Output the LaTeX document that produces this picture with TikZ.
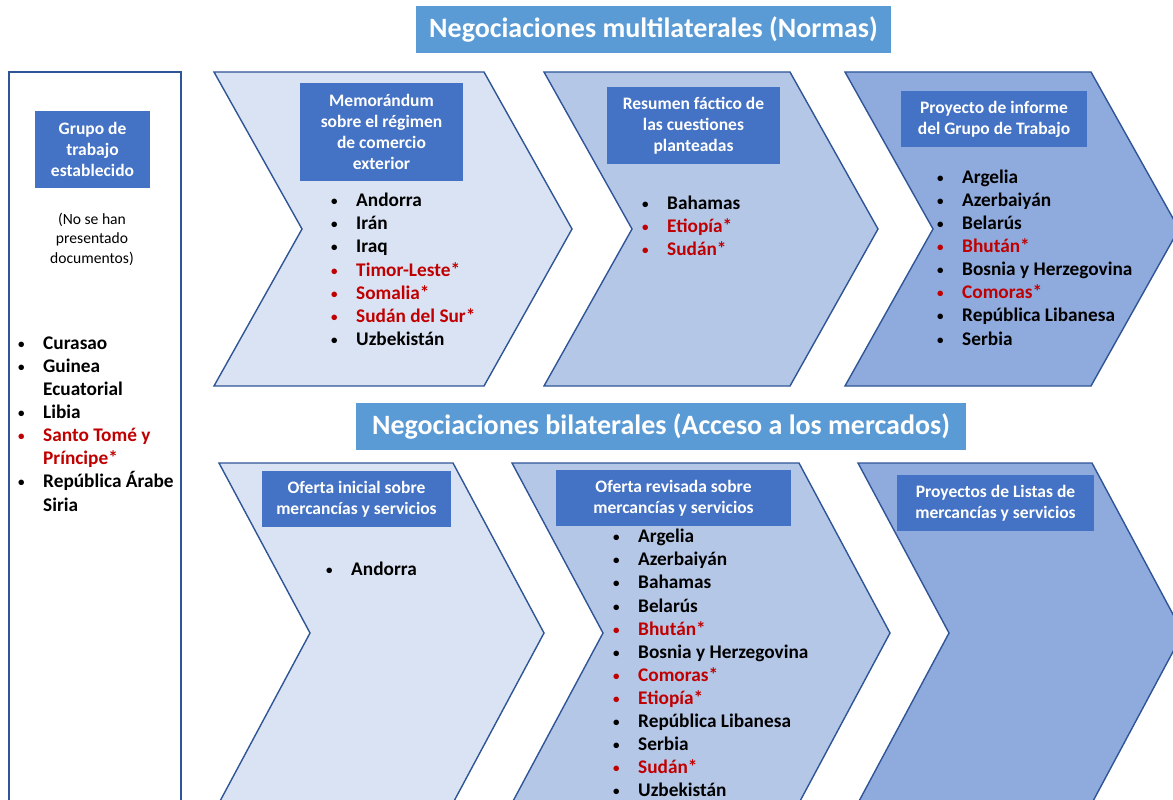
\documentclass[tikz,border=0pt]{standalone}
\usepackage{fontspec}
\setmainfont{Carlito}
\definecolor{titulo}{HTML}{5B9BD5}
\definecolor{encab}{HTML}{4472C4}
\definecolor{chevA}{HTML}{DAE3F3}
\definecolor{chevB}{HTML}{B4C7E7}
\definecolor{chevC}{HTML}{8FAADC}
\definecolor{borde}{HTML}{2F5597}
\definecolor{rojo}{HTML}{C00000}
\newcommand{\vineta}{\llap{\raisebox{1pt}{\fontsize{13}{13}\selectfont\textbullet}\hspace{18.5pt}}}
\tikzset{
  titulo/.style={fill=titulo, text=white, inner sep=0pt,
    font=\bfseries\fontsize{28}{32}\selectfont},
  encabezado/.style={fill=encab, text=white, inner sep=0pt, align=center,
    font=\bfseries\fontsize{17.5}{21}\selectfont},
  chevron/.style={draw=borde, line width=1.4pt},
  pais/.style={anchor=base west, inner sep=0pt, text=#1,
    font=\bfseries\fontsize{19.3}{23}\selectfont,
    execute at begin node={\vineta}},
  pais/.default=black,
  resto/.style={anchor=base west, inner sep=0pt, text=#1,
    font=\bfseries\fontsize{19.3}{23}\selectfont},
  resto/.default=black,
}
\begin{document}
\begin{tikzpicture}[x=1pt, y=-1pt]
  \useasboundingbox (0,0) rectangle (1173,800);

  % titulos
  \node[titulo, minimum width=475, minimum height=46.5] (multi) at (653.5,29.4)
    {Negociaciones multilaterales (Normas)};
  \node[titulo, minimum width=610, minimum height=47] (bilat) at (661,426.5)
    {Negociaciones bilaterales (Acceso a los mercados)};

  % grupo de trabajo
  \draw[borde, line width=1.4pt] (9,72) rectangle (181,815);
  \node[encabezado, minimum width=115, minimum height=77] (grupo) at (92.5,149.5)
    {Grupo de\\trabajo\\establecido};
  \node[align=center, inner sep=0pt, font=\fontsize{15.6}{19.5}\selectfont] (nota)
    at (92,239) {(No se han\\presentado\\documentos)};

  % chevrones
  \foreach \a/\b/\c in {214/484/chevA, 544/790/chevB, 845/1091/chevC}
    \draw[chevron, fill=\c] (\a,72) -- (\b,72) -- (\b+88,229) -- (\b,386)
      -- (\a,386) -- (\a+88,229) -- cycle;
  \foreach \a/\b/\c in {219/453/chevA, 512/799/chevB, 858/1092/chevC}
    \draw[chevron, fill=\c] (\a,463) -- (\b,463) -- (\b+91,633) -- (\b,803)
      -- (\a,803) -- (\a+91,633) -- cycle;

  % encabezados
  \node[encabezado, minimum width=163, minimum height=98] (memo) at (381.5,132)
    {Memorándum\\sobre el régimen\\de comercio\\exterior};
  \node[encabezado, minimum width=173, minimum height=77] (resumen) at (693.5,125.5)
    {Resumen fáctico de\\las cuestiones\\planteadas};
  \node[encabezado, minimum width=186, minimum height=56] (informe) at (994,119)
    {Proyecto de informe\\del Grupo de Trabajo};
  \node[encabezado, minimum width=189, minimum height=56] (inicial) at (356.5,499)
    {Oferta inicial sobre\\mercancías y servicios};
  \node[encabezado, minimum width=235, minimum height=56] (revisada) at (673.5,498)
    {Oferta revisada sobre\\mercancías y servicios};
  \node[encabezado, minimum width=197, minimum height=56] (listas) at (995.5,503)
    {Proyectos de Listas de\\mercancías y servicios};

  % listas
  \node[pais] (g-1) at (43,349.3) {Curasao};
  \node[pais] (g-2) at (43,372.4) {Guinea};
  \node[resto] (g-2b) at (43,395.5) {Ecuatorial};
  \node[pais] (g-3) at (43,418.6) {Libia};
  \node[pais=rojo] (g-4) at (43,441.7) {Santo Tomé y};
  \node[resto=rojo] (g-4b) at (43,464.8) {Príncipe*};
  \node[pais] (g-5) at (43,487.9) {República Árabe};
  \node[resto] (g-5b) at (43,511) {Siria};

  \foreach \txt/\col [count=\i from 0] in {Andorra/black, Irán/black, Iraq/black,
      Timor-Leste*/rojo, Somalia*/rojo, Sudán del Sur*/rojo, Uzbekistán/black}
    \node[pais=\col] (memo-\i) at (356,206.7+23.1*\i) {\txt};

  \foreach \txt/\col [count=\i from 0] in {Bahamas/black, Etiopía*/rojo, Sudán*/rojo}
    \node[pais=\col] (resumen-\i) at (667,209.3+23.1*\i) {\txt};

  \foreach \txt/\col [count=\i from 0] in {Argelia/black, Azerbaiyán/black,
      Belarús/black, Bhután*/rojo, Bosnia y Herzegovina/black, Comoras*/rojo,
      República Libanesa/black, Serbia/black}
    \node[pais=\col] (informe-\i) at (962,183.3+23.1*\i) {\txt};

  \node[pais] (inicial-0) at (351,575) {Andorra};

  \foreach \txt/\col [count=\i from 0] in {Argelia/black, Azerbaiyán/black,
      Bahamas/black, Belarús/black, Bhután*/rojo, Bosnia y Herzegovina/black,
      Comoras*/rojo, Etiopía*/rojo, República Libanesa/black, Serbia/black,
      Sudán*/rojo, Uzbekistán/black}
    \node[pais=\col] (revisada-\i) at (638,542.7+23.1*\i) {\txt};
\end{tikzpicture}
\end{document}
